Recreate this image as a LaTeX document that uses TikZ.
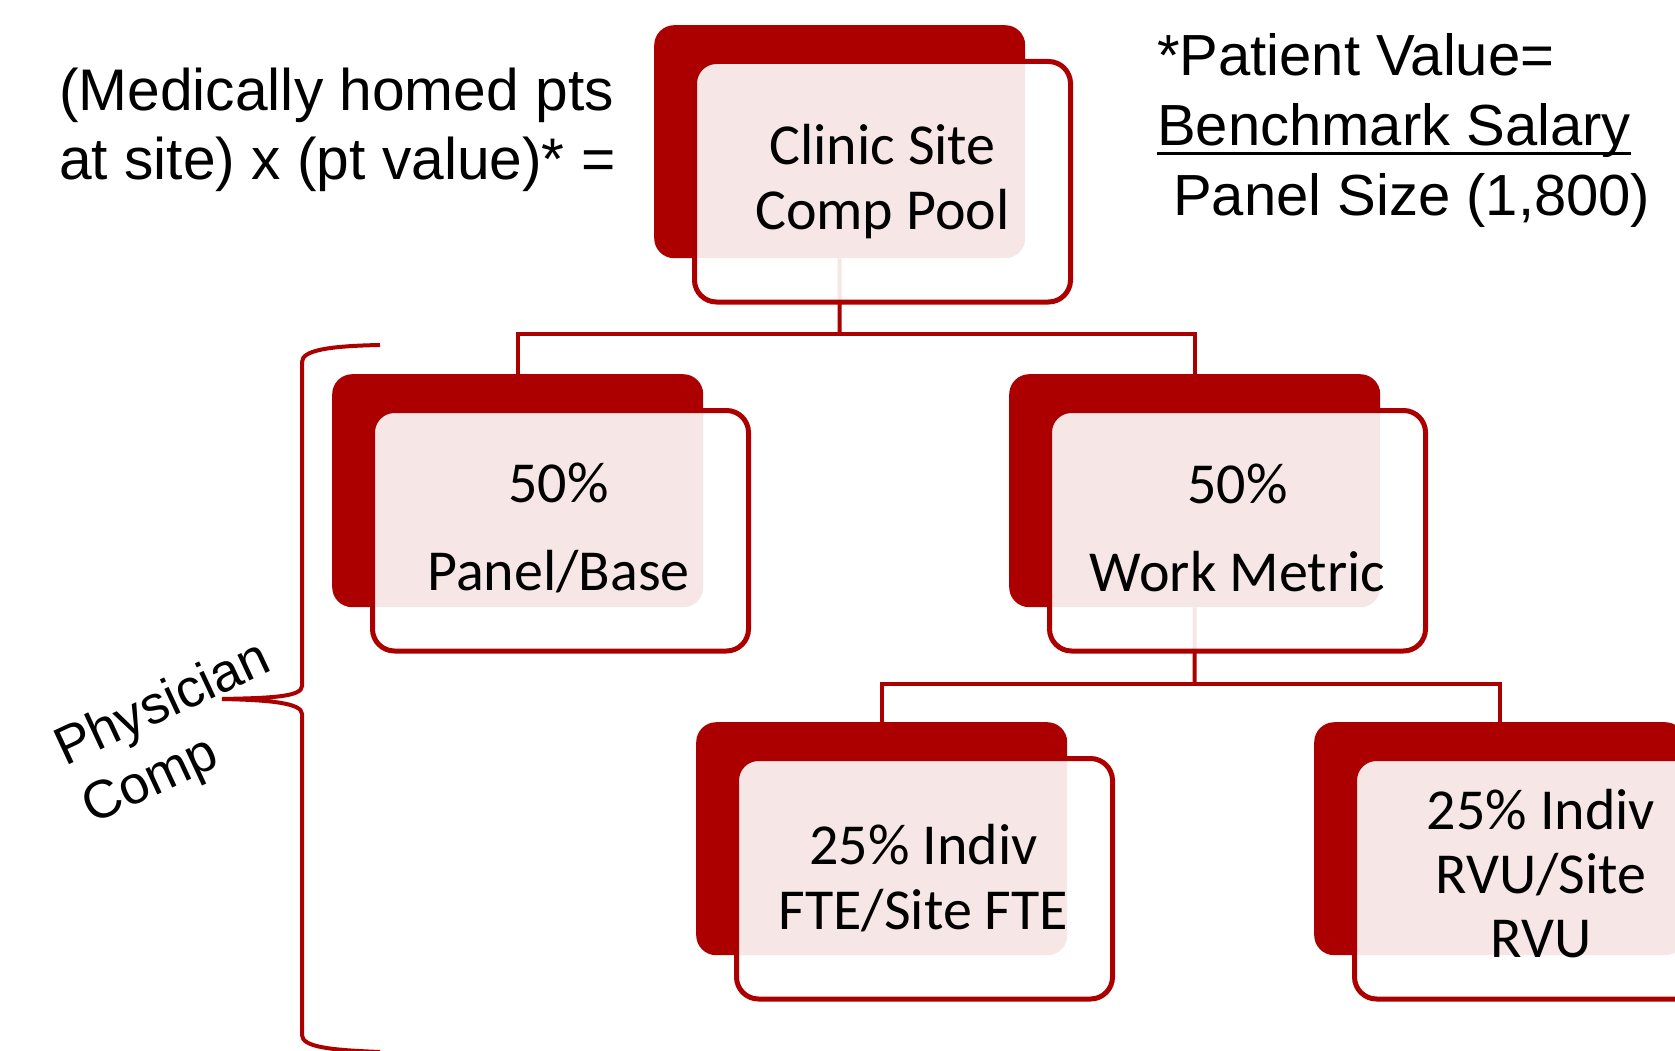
\documentclass[tikz,border=0pt]{standalone}
\usepackage{fontspec}
\setmainfont{Liberation Sans}
\newfontfamily\carl{Carlito}
\definecolor{dred}{HTML}{AC0000}
\newsavebox\ulbox
\newcommand\thickul[1]{\sbox\ulbox{#1}\rlap{\rule[-10pt]{\wd\ulbox}{2.8pt}}\usebox\ulbox}
\tikzset{
  darkbox/.style={fill=dred, draw=none, rounded corners=20pt, minimum width=371pt, minimum height=233pt, inner sep=0pt, anchor=north west},
  lightbox/.style={fill=white, fill opacity=0.9, draw=dred, draw opacity=1, line width=5pt, rounded corners=22pt, minimum width=376pt, minimum height=240.5pt, inner sep=0pt, anchor=north west},
  boxtext/.style={font=\carl\fontsize{58pt}{65pt}\selectfont, align=center, inner sep=0pt, text=black},
  conn/.style={draw=dred, line width=4pt},
  note/.style={font=\fontsize{58.7pt}{69pt}\selectfont, align=left, inner sep=0pt, anchor=north west},
}
\begin{document}
\begin{tikzpicture}[x=1pt, y=-1pt]
\useasboundingbox (0,0) rectangle (1675,1051);
\fill[white] (0,0) rectangle (1675,1051);

% junction points
\coordinate (j1) at (839.5,334);
\coordinate (j2) at (1194.5,684);

% dark boxes
\node[darkbox] (d1) at (654,25) {};
\node[darkbox] (d2) at (332,374) {};
\node[darkbox] (d3) at (1009,374) {};
\node[darkbox] (d4) at (696,722) {};
\node[darkbox] (d5) at (1314,722) {};

% connectors
\draw[conn] (d1.south) -- (j1);
\draw[conn] (j1) -| (d2.north);
\draw[conn] (j1) -| (d3.north);
\draw[conn] (d3.south) -- (j2);
\draw[conn] (j2) -| (d4.north);
\draw[conn] (j2) -| (d5.north);

% light boxes
\node[lightbox] (l1) at ([shift={(38,34)}]d1.north west) {};
\node[lightbox] (l2) at ([shift={(38,34)}]d2.north west) {};
\node[lightbox] (l3) at ([shift={(38,34)}]d3.north west) {};
\node[lightbox] (l4) at ([shift={(38,34)}]d4.north west) {};
\node[lightbox] (l5) at ([shift={(38,34)}]d5.north west) {};

% box texts
\node[boxtext] (t1) at (l1.center) {Clinic Site\\Comp Pool};
\node[boxtext] (t2) at ([shift={(-2,-3)}]l2.center) {50\%\\[23pt]Panel/Base};
\node[boxtext] (t3) at ([shift={(0,-3)}]l3.center) {50\%\\[23pt]Work Metric};
\node[boxtext] (t4) at ([shift={(-1,-1)}]l4.center) {25\% Indiv\\FTE/Site FTE};
\node[boxtext, font=\carl\fontsize{58pt}{64pt}\selectfont] (t5) at ([shift={(-1.5,-5)}]l5.center) {25\% Indiv\\RVU/Site\\RVU};

% notes
\node[note] (n1) at (59,68) {(Medically homed pts\\at site) x (pt value)* =};
\node[note, font=\fontsize{58pt}{70pt}\selectfont] (n2) at (1157,33) {*Patient Value=\\\thickul{Benchmark Salary}\\\hspace*{16pt}Panel Size (1,800)};

% brace
\draw[draw=dred, line width=4pt]
  (380,345) .. controls (330,346) and (302,350) .. (302,362)
  -- (302,686) .. controls (302,697) and (270,698) .. (222,699)
  .. controls (270,700) and (302,703) .. (302,714)
  -- (302,1035) .. controls (302,1047) and (330,1050) .. (380,1052);
\node[rotate=25, align=left, inner sep=0pt, font=\fontsize{53.5pt}{64pt}\selectfont] (pc) at (177,735) {Physician\\Comp};
\end{tikzpicture}
\end{document}
